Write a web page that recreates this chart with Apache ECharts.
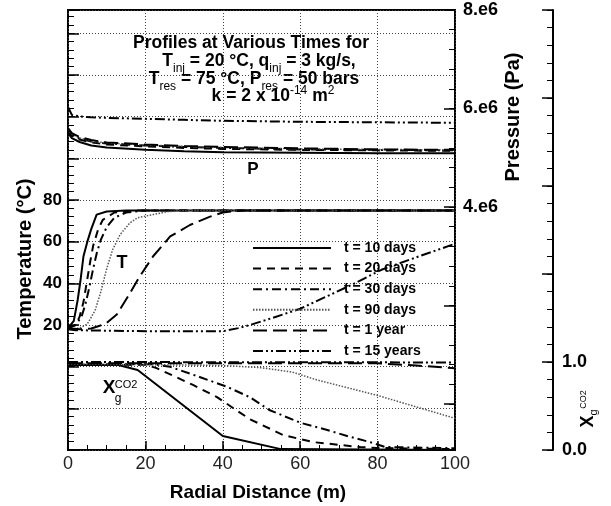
<!DOCTYPE html>
<html>
<head>
<meta charset="utf-8">
<script src="https://cdn.jsdelivr.net/npm/echarts@6/dist/echarts.min.js"></script>
<style>
  html, body { margin: 0; padding: 0; background: #fff; }
  #chart { width: 611px; height: 506px; }
</style>
</head>
<body>
<div id="chart"></div>
<script>
// legend names
var times = ['t = 10 days', 't = 20 days', 't = 30 days', 't = 90 days', 't = 1 year', 't = 15 years']

// pressure profiles (Pa), shared radial distances (m)
var presR = [0, 1, 3, 6, 10, 20, 30, 40, 60, 80, 100]
var pres10d = [5.50e6, 5.40e6, 5.32e6, 5.25e6, 5.21e6, 5.16e6, 5.13e6, 5.11e6, 5.10e6, 5.09e6, 5.09e6]
var pres20d = [5.55e6, 5.45e6, 5.37e6, 5.31e6, 5.27e6, 5.23e6, 5.20e6, 5.18e6, 5.16e6, 5.15e6, 5.14e6]
var pres30d = [5.57e6, 5.47e6, 5.39e6, 5.33e6, 5.29e6, 5.25e6, 5.22e6, 5.20e6, 5.17e6, 5.16e6, 5.15e6]
var pres90d = [5.58e6, 5.48e6, 5.40e6, 5.34e6, 5.30e6, 5.26e6, 5.23e6, 5.21e6, 5.18e6, 5.17e6, 5.16e6]
var pres1y = [5.60e6, 5.50e6, 5.42e6, 5.36e6, 5.31e6, 5.27e6, 5.24e6, 5.22e6, 5.19e6, 5.17e6, 5.16e6]
var pres15y = [6.03e6, 5.87e6, 5.84e6, 5.82e6, 5.81e6, 5.79e6, 5.77e6, 5.75e6, 5.73e6, 5.72e6, 5.71e6]

// temperature profiles (deg C)
var tempR10d = [0, 1.5, 2.5, 3.2, 4, 5, 6, 7.4, 10, 15, 100]
var temp10d = [18.5, 22, 32, 41, 53, 60, 66, 73, 74.5, 75, 75]
var tempR20d = [0, 2, 3, 4, 4.8, 5.7, 6.5, 7.8, 9, 12, 18, 100]
var temp20d = [18.5, 20, 24, 31, 40, 50, 58, 66, 70.5, 74, 75, 75]
var tempR30d = [0, 2, 3.5, 4.5, 5.5, 6.5, 7.5, 8.5, 10, 12, 15, 20, 100]
var temp30d = [18.5, 20, 24, 30, 38, 47, 55, 61, 67, 71.5, 74, 75, 75]
var tempR90d = [0, 3, 5, 7, 8.5, 10, 11.5, 13.5, 16, 18, 22, 26, 32, 100]
var temp90d = [18, 18.5, 20.5, 27, 36, 47, 56, 63.5, 69, 71.5, 73, 74.5, 75, 75]
var tempR1y = [0, 3, 6, 8, 10, 12.6, 15.6, 18.6, 22, 26.4, 31.5, 36.7, 40, 45, 100]
var temp1y = [18.5, 18, 18.3, 19.5, 21, 25, 34, 43.5, 53, 62.5, 68, 72, 74, 75, 75]
var tempR15y = [0, 2, 20, 40, 44, 47, 53, 60, 66, 73, 81, 90, 100]
var temp15y = [18, 17.5, 17, 17, 18.5, 20, 23.5, 27.8, 33, 39, 46.5, 52.5, 59]

// gas-phase CO2 mass fraction
var xgR10d = [0, 13, 18, 40, 55, 100]
var xg10d = [0.965, 0.965, 0.91, 0.16, 0.01, 0]
var xgR20d = [0, 20, 22.9, 32.3, 38.5, 47, 55.6, 63.3, 70.3, 75.5, 80, 100]
var xg20d = [0.97, 0.97, 0.93, 0.74, 0.60, 0.35, 0.17, 0.09, 0.057, 0.034, 0.023, 0.01]
var xgR30d = [0, 22, 26.4, 34, 41, 47, 52, 60, 67, 73, 78, 82, 100]
var xg30d = [0.975, 0.975, 0.945, 0.83, 0.72, 0.60, 0.455, 0.31, 0.227, 0.148, 0.09, 0.034, 0.02]
var xgR90d = [0, 20, 40, 50, 58, 64, 72, 80, 90, 100]
var xg90d = [0.975, 0.97, 0.96, 0.935, 0.885, 0.80, 0.71, 0.62, 0.49, 0.36]
var xgR1y = [0, 80, 90, 100]
var xg1y = [0.985, 0.985, 0.96, 0.93]
var xgR15y = [0, 100]
var xg15y = [1.0, 0.995]

// axis tick labels
var tempLabels = [20, 40, 60, 80]
var presLabels = [4e6, 6e6, 8e6]
var xgLabels = [0, 1]

var presCurves = [pres10d, pres20d, pres30d, pres90d, pres1y, pres15y]
var tempCurves = [[tempR10d, temp10d], [tempR20d, temp20d], [tempR30d, temp30d], [tempR90d, temp90d], [tempR1y, temp1y], [tempR15y, temp15y]]
var xgCurves = [[xgR10d, xg10d], [xgR20d, xg20d], [xgR30d, xg30d], [xgR90d, xg90d], [xgR1y, xg1y], [xgR15y, xg15y]]

var lineStyles = [
  { type: 'solid', width: 2, color: '#000' },
  { type: [8, 6], width: 2, color: '#000' },
  { type: [9, 4, 2, 4], width: 2, color: '#000' },
  { type: [1.5, 1.5], width: 1.5, color: '#555' },
  { type: [14, 6], width: 2, color: '#000' },
  { type: [10, 3, 2, 3, 2, 3], width: 2, color: '#000' }
]

var FONT = '"Liberation Sans", Arial, sans-serif'

function pairs (xs, ys) {
  return xs.map(function (x, i) { return [x, ys[i]] })
}

function makeSeries (name, data, style, xIdx, yIdx) {
  return {
    name: name,
    type: 'line',
    xAxisIndex: xIdx,
    yAxisIndex: yIdx,
    data: data,
    symbol: 'none',
    showSymbol: false,
    smooth: false,
    silent: true,
    itemStyle: { color: '#000' },
    lineStyle: style,
    emphasis: { disabled: true }
  }
}

var series = []
times.forEach(function (name, i) {
  series.push(makeSeries(name, pairs(presR, presCurves[i]), lineStyles[i], 1, 1))
  series.push(makeSeries(name, pairs(tempCurves[i][0], tempCurves[i][1]), lineStyles[i], 0, 0))
  series.push(makeSeries(name, pairs(xgCurves[i][0], xgCurves[i][1]), lineStyles[i], 0, 2))
})

var dotted = { show: true, lineStyle: { type: [1, 2], color: '#444', width: 1 } }
var tickStyle = { color: '#000', width: 1.5 }
var minorStyle = { color: '#000', width: 1 }

// tick-only axis used to draw the minor ticks
function minorAxis (gridIndex, position, min, max, step, len, offset) {
  return {
    gridIndex: gridIndex,
    type: 'value',
    position: position,
    offset: offset || 0,
    min: min,
    max: max,
    interval: step,
    silent: true,
    axisLine: { show: false, onZero: false },
    axisTick: { show: true, inside: true, length: len, lineStyle: minorStyle },
    axisLabel: { show: false },
    splitLine: { show: false }
  }
}

function txt (x, y, text, size, weight, extra) {
  var el = {
    type: 'text',
    x: x,
    y: y,
    silent: true,
    style: {
      text: text,
      fontFamily: FONT,
      fontSize: size,
      fontWeight: weight,
      fill: '#000',
      textAlign: 'center',
      textVerticalAlign: 'middle'
    }
  }
  if (extra) {
    for (var k in extra) el[k] = extra[k]
  }
  return el
}

function richLine (x, y, text, lh) {
  return {
    type: 'text',
    x: x,
    y: y,
    silent: true,
    style: {
      text: text,
      fontFamily: FONT,
      fontSize: 17.5,
      fontWeight: 'bold',
      lineHeight: lh,
      fill: '#000',
      textAlign: 'center',
      textVerticalAlign: 'middle',
      rich: {
        sub: { fontFamily: FONT, fontSize: 12, fontWeight: 'normal', lineHeight: 12, verticalAlign: 'bottom', fill: '#000' },
        sup: { fontFamily: FONT, fontSize: 12, fontWeight: 'normal', lineHeight: 12, verticalAlign: 'top', fill: '#000' }
      }
    }
  }
}

var chart = echarts.init(document.getElementById('chart'), null, { renderer: 'canvas' })

chart.setOption({
  animation: false,
  backgroundColor: '#fff',
  grid: [
    { left: 68, right: 156, top: 10, bottom: 56, show: true, borderColor: '#000', borderWidth: 2, backgroundColor: 'transparent', outerBoundsMode: 'none' },
    { left: 68, right: 156, top: 10, bottom: 102, show: false, outerBoundsMode: 'none' }
  ],
  legend: {
    data: times,
    orient: 'vertical',
    left: 247,
    top: 236,
    itemWidth: 78,
    itemHeight: 14,
    itemGap: 6.6,
    selectedMode: false,
    itemStyle: { color: 'transparent', borderColor: 'transparent', borderWidth: 0, opacity: 0 },
    textStyle: {
      fontFamily: '"Liberation Sans Narrow", "Arial Narrow", ' + FONT,
      fontWeight: 'bold',
      fontSize: 14,
      color: '#000',
      padding: [0, 0, 0, 8]
    }
  },
  xAxis: [
    {
      gridIndex: 0,
      type: 'value',
      position: 'bottom',
      min: 0,
      max: 100,
      interval: 20,
      axisLine: { show: false, onZero: false },
      axisTick: { show: true, inside: true, length: 9, lineStyle: tickStyle },
      axisLabel: { fontFamily: FONT, fontSize: 18, color: '#222', margin: 5 },
      splitLine: dotted
    },
    { gridIndex: 1, type: 'value', min: 0, max: 100, show: false },
    minorAxis(0, 'bottom', 0, 100, 5, 5)
  ],
  yAxis: [
    {
      gridIndex: 0,
      type: 'value',
      position: 'left',
      min: -40,
      max: 171.2,
      interval: 20,
      axisLine: { show: false, onZero: false },
      axisTick: { show: true, inside: true, length: 11, lineStyle: tickStyle },
      axisLabel: {
        fontFamily: FONT,
        fontSize: 17,
        fontWeight: 'bold',
        color: '#000',
        margin: 6,
        formatter: function (v) { return tempLabels.indexOf(v) >= 0 ? String(v) : '' }
      },
      splitLine: dotted
    },
    {
      gridIndex: 1,
      type: 'value',
      position: 'right',
      min: 0,
      max: 8e6,
      interval: 2e6,
      axisLine: { show: false, onZero: false },
      axisTick: { show: true, inside: true, length: 11, lineStyle: tickStyle },
      axisLabel: {
        fontFamily: FONT,
        fontSize: 18,
        fontWeight: 'bold',
        color: '#000',
        margin: 8,
        formatter: function (v) { return presLabels.indexOf(v) >= 0 ? (v / 1e6) + '.e6' : '' }
      },
      splitLine: { show: false }
    },
    {
      gridIndex: 0,
      type: 'value',
      position: 'right',
      offset: 98,
      min: 0,
      max: 5,
      interval: 1,
      axisLine: { show: true, onZero: false, lineStyle: { color: '#000', width: 2 } },
      axisTick: { show: true, inside: true, length: 11, lineStyle: tickStyle },
      axisLabel: {
        fontFamily: FONT,
        fontSize: 18,
        fontWeight: 'bold',
        color: '#000',
        margin: 9,
        formatter: function (v) { return xgLabels.indexOf(v) >= 0 ? v.toFixed(1) : '' }
      },
      splitLine: { show: false }
    },
    minorAxis(0, 'left', -40, 171.2, 4, 6),
    minorAxis(1, 'right', 0, 8e6, 4e5, 6),
    minorAxis(0, 'right', 0, 5, 0.2, 6, 98)
  ],
  graphic: [
    richLine(251, 43, 'Profiles at Various Times for', 20),
    richLine(259, 61, 'T{sub|inj} = 20 °C, q{sub|inj} = 3 kg/s,', 28),
    richLine(254, 79, 'T{sub|res} = 75 °C, P{sub|res} = 50 bars', 28),
    richLine(273, 96, 'k = 2 x 10{sup|-14} m{sup|2}', 23),
    txt(253, 169, 'P', 17, 'bold'),
    txt(122, 263, 'T', 18, 'bold'),
    txt(109, 388, 'X', 19, 'bold'),
    txt(118, 399, 'g', 12, 'normal'),
    txt(126, 385, 'CO2', 11, 'normal'),
    txt(25, 259, 'Temperature (°C)', 20, 'bold', { rotation: Math.PI / 2 }),
    txt(513, 117, 'Pressure (Pa)', 20, 'bold', { rotation: Math.PI / 2 }),
    txt(258, 493, 'Radial Distance (m)', 19, 'bold'),
    {
      type: 'group',
      x: 588,
      y: 410,
      rotation: Math.PI / 2,
      children: [
        txt(-11.5, 0, 'X', 18, 'bold'),
        txt(-2.5, 6, 'g', 11, 'normal'),
        txt(10.5, -4, 'CO2', 9, 'normal')
      ]
    }
  ],
  series: series
})
</script>
</body>
</html>
